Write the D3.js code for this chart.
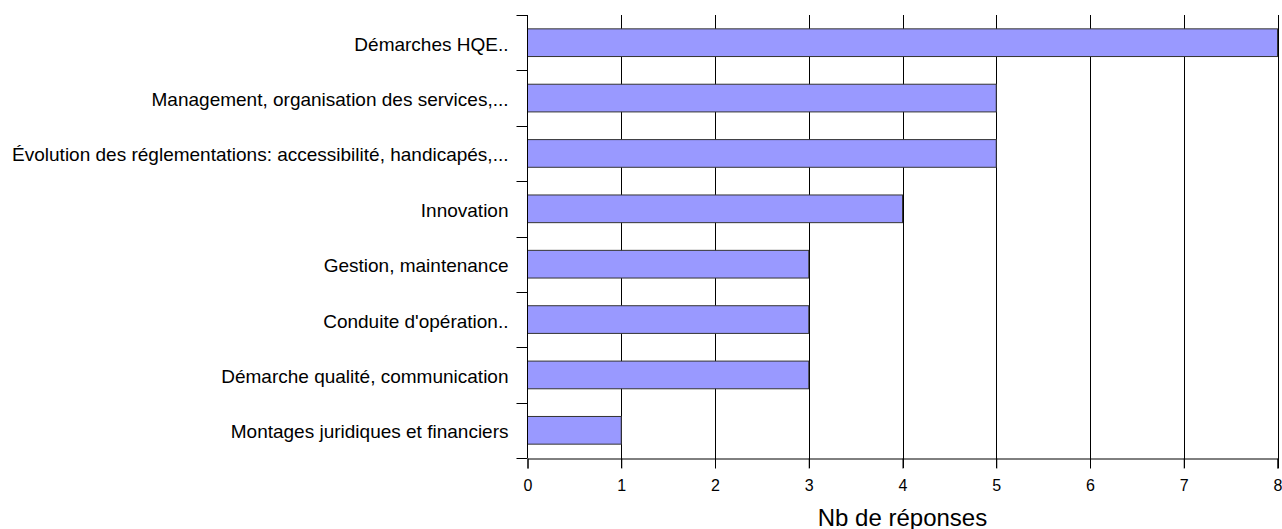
<!DOCTYPE html>
<html>
<head>
<meta charset="utf-8">
<script src="https://cdn.jsdelivr.net/npm/d3@7"></script>
<style>
body{margin:0;background:#fff}
text{font-family:"Liberation Sans",Arial,sans-serif;fill:#000}
.xaxis text{font-size:16px !important}
</style>
</head>
<body>
<div id="chart"></div>
<script>
var categories = [
	"Démarches HQE..",
	"Management, organisation des services,...",
	"Évolution des réglementations: accessibilité, handicapés,...",
	"Innovation",
	"Gestion, maintenance",
	"Conduite d'opération..",
	"Démarche qualité, communication",
	"Montages juridiques et financiers"
]
var values = [8, 5, 5, 4, 3, 3, 3, 1]
var xTicks = [0, 1, 2, 3, 4, 5, 6, 7, 8]
var xTitle = "Nb de réponses"

var width = 1282
var height = 529
var plotLeft = 527.5, plotRight = 1277.5, plotTop = 15, plotBottom = 458

var svg = d3.select("#chart").append("svg").attr("width",width).attr("height",height)

var x = d3.scaleLinear().domain([0,8]).range([plotLeft,plotRight])
var y = d3.scaleBand().domain(categories).range([plotTop,plotBottom]).paddingInner(0.5).paddingOuter(0.25)

// vertical grid lines, drawn from top down past the axis as ticks
svg.append("g").selectAll("line").data(xTicks.filter(function(d){return d>0}))
	.enter().append("line")
	.attr("x1",function(d){return Math.round(x(d))+0.5}).attr("x2",function(d){return Math.round(x(d))+0.5})
	.attr("y1",plotTop).attr("y2",plotBottom+10)
	.attr("stroke","#000").attr("stroke-width",1)

// bars
svg.append("g").selectAll("rect").data(values)
	.enter().append("rect")
	.attr("x",plotLeft)
	.attr("y",function(d,i){return y(categories[i])})
	.attr("width",function(d){return x(d)-plotLeft})
	.attr("height",y.bandwidth())
	.attr("fill","#9999ff")
	.attr("stroke","#333")
	.attr("stroke-width",1)

// x axis
var xAxis = d3.axisBottom(x).tickValues(xTicks).tickSize(10).tickPadding(11)
var gx = svg.append("g").attr("class","xaxis").attr("transform","translate(0,"+(plotBottom+0.5)+")").call(xAxis)
gx.attr("font-family",null).attr("font-size",16)
gx.select(".domain").attr("stroke","#000")
gx.selectAll(".tick line").attr("stroke","#000")
gx.selectAll(".tick text").attr("font-size",16)

// y axis: ticks at band boundaries
var bounds = d3.range(categories.length+1).map(function(i){return plotTop + i*(plotBottom-plotTop)/categories.length})
svg.append("line").attr("x1",plotLeft).attr("x2",plotLeft).attr("y1",plotTop).attr("y2",plotBottom)
	.attr("stroke","#000")
svg.append("g").selectAll("line").data(bounds)
	.enter().append("line")
	.attr("x1",plotLeft-11).attr("x2",plotLeft)
	.attr("y1",function(d){return Math.round(d)+0.5}).attr("y2",function(d){return Math.round(d)+0.5})
	.attr("stroke","#000")

// category labels
svg.append("g").selectAll("text").data(categories)
	.enter().append("text")
	.text(function(d){return d})
	.attr("x",plotLeft-19)
	.attr("y",function(d){return y(d)+y.bandwidth()/2})
	.attr("dy","0.42em")
	.attr("text-anchor","end")
	.style("font-size","19px")

svg.append("text").text(xTitle)
	.attr("x",(plotLeft+plotRight)/2).attr("y",526)
	.attr("text-anchor","middle")
	.style("font-size","24px")
</script>
</body>
</html>
